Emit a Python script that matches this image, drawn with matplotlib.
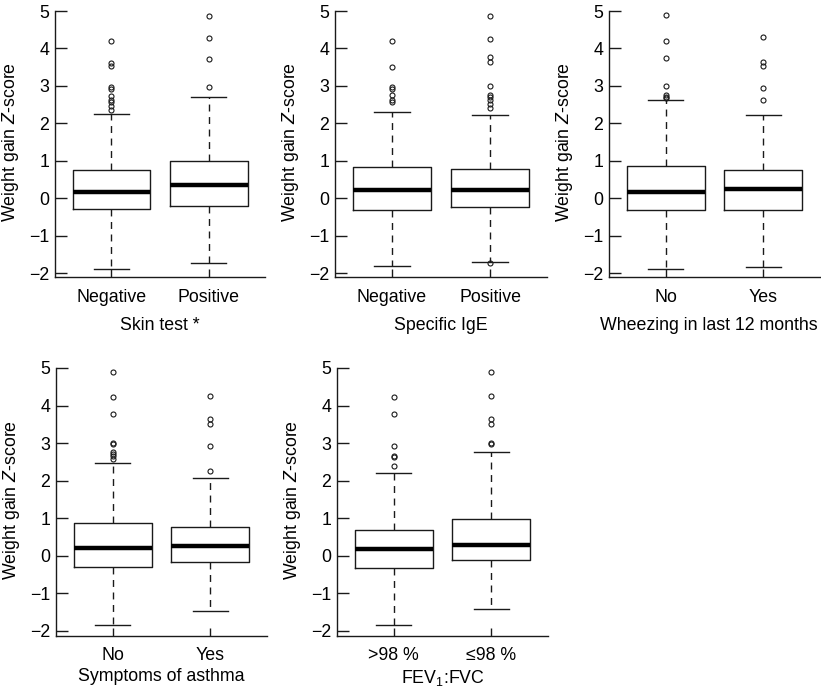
import matplotlib
matplotlib.use("Agg")
import matplotlib.pyplot as plt

plt.rcParams['font.family'] = ['Liberation Sans', 'DejaVu Sans']
plt.rcParams['mathtext.fontset'] = 'custom'
plt.rcParams['mathtext.rm'] = 'Liberation Sans'
plt.rcParams['mathtext.it'] = 'Liberation Sans:italic'

# ---- data ----
skin_labels = ["Negative", "Positive"]
skin_whislo = [-1.89, -1.73]
skin_q1 = [-0.30, -0.21]
skin_med = [0.16, 0.34]
skin_q3 = [0.74, 0.99]
skin_whishi = [2.26, 2.71]
skin_fliers = [[4.19, 3.61, 3.52, 2.96, 2.93, 2.72, 2.61, 2.57, 2.46, 2.35],
               [4.87, 4.28, 3.73, 2.97]]

ige_labels = ["Negative", "Positive"]
ige_whislo = [-1.81, -1.70]
ige_q1 = [-0.32, -0.24]
ige_med = [0.22, 0.22]
ige_q3 = [0.84, 0.79]
ige_whishi = [2.30, 2.21]
ige_fliers = [[4.21, 3.51, 2.96, 2.91, 2.76, 2.63, 2.58],
              [4.88, 4.26, 3.76, 3.65, 3.01, 2.76, 2.69, 2.61, 2.52, 2.41, -1.74]]

wheeze_labels = ["No", "Yes"]
wheeze_whislo = [-1.90, -1.83]
wheeze_q1 = [-0.31, -0.31]
wheeze_med = [0.16, 0.24]
wheeze_q3 = [0.87, 0.74]
wheeze_whishi = [2.62, 2.23]
wheeze_fliers = [[4.89, 4.21, 3.75, 2.99, 2.76, 2.71, 2.67],
                 [4.30, 3.64, 3.54, 2.94, 2.62]]

asthma_labels = ["No", "Yes"]
asthma_whislo = [-1.84, -1.47]
asthma_q1 = [-0.29, -0.16]
asthma_med = [0.21, 0.26]
asthma_q3 = [0.88, 0.78]
asthma_whishi = [2.47, 2.06]
asthma_fliers = [[4.89, 4.22, 3.77, 3.01, 2.97, 2.77, 2.72, 2.65, 2.59],
                 [4.26, 3.64, 3.52, 2.93, 2.26]]

fev_labels = [">98 %", "\u226498 %"]
fev_whislo = [-1.84, -1.42]
fev_q1 = [-0.33, -0.11]
fev_med = [0.17, 0.30]
fev_q3 = [0.70, 0.99]
fev_whishi = [2.21, 2.76]
fev_fliers = [[4.22, 3.77, 2.92, 2.67, 2.63, 2.39],
              [4.89, 4.26, 3.64, 3.52, 3.01, 2.97]]

yticks = [-2, -1, 0, 1, 2, 3, 4, 5]
ytick_labels = ["\u22122", "\u22121", "0", "1", "2", "3", "4", "5"]
ylabel = "Weight gain $\\it{Z}$-score"

panels = [
    ("Skin test *", skin_labels, skin_whislo, skin_q1, skin_med, skin_q3, skin_whishi, skin_fliers),
    ("Specific IgE", ige_labels, ige_whislo, ige_q1, ige_med, ige_q3, ige_whishi, ige_fliers),
    ("Wheezing in last 12 months", wheeze_labels, wheeze_whislo, wheeze_q1, wheeze_med, wheeze_q3, wheeze_whishi, wheeze_fliers),
    ("Symptoms of asthma", asthma_labels, asthma_whislo, asthma_q1, asthma_med, asthma_q3, asthma_whishi, asthma_fliers),
    ("FEV$_1$:FVC", fev_labels, fev_whislo, fev_q1, fev_med, fev_q3, fev_whishi, fev_fliers),
]

W, H = 821, 693
fig = plt.figure(figsize=(W / 100, H / 100), dpi=100)

# axes rectangles in pixels: (left, top, right, bottom)
rects = [(55, 7.3, 265, 277.5), (335, 7.3, 547, 277.5), (609, 7.3, 820, 277.5),
         (56, 364.2, 267, 635.5), (337, 364.2, 548, 635.5)]
xlabpads = [8.5, 8.5, 8.5, 3.0, 3.0]
xlabel_x = [0.5, 0.5, 0.475, 0.5, 0.5]

FS = 12.8
col = "#1a1a1a"
for (title, labels, wlo, q1, med, q3, whi, fl), (l, t, r, b), xlp, lx in zip(panels, rects, xlabpads, xlabel_x):
    ax = fig.add_axes([l / W, 1 - b / H, (r - l) / W, (b - t) / H])
    stats = []
    for i in range(len(labels)):
        stats.append(dict(whislo=wlo[i], q1=q1[i], med=med[i], q3=q3[i], whishi=whi[i],
                          fliers=fl[i], label=labels[i]))
    ax.bxp(stats, positions=[1, 2], widths=0.8, capwidths=0.36, showfliers=True,
           boxprops=dict(color=col, linewidth=1.0),
           medianprops=dict(color="black", linewidth=3.2, solid_capstyle='butt'),
           whiskerprops=dict(color=col, linewidth=1.0, linestyle=(0, (5, 4))),
           capprops=dict(color=col, linewidth=1.0),
           flierprops=dict(marker='o', markersize=3.6, markerfacecolor='none',
                           markeredgecolor=col, markeredgewidth=0.8))
    ax.set_xlim(0.42, 2.58)
    ax.set_ylim(-2.12, 5.1)
    ax.set_yticks(yticks)
    ax.set_yticklabels(ytick_labels)
    ax.spines['top'].set_visible(False)
    ax.spines['right'].set_visible(False)
    ax.spines['left'].set_bounds(-2.12, 5)
    for s in ('left', 'bottom'):
        ax.spines[s].set_linewidth(1.0)
        ax.spines[s].set_color(col)
    ax.tick_params(axis='both', direction='in', width=1.0, color=col, labelsize=FS)
    ax.tick_params(axis='y', length=8.5, pad=4)
    ax.tick_params(axis='x', length=5.5, pad=8)
    ax.set_ylabel(ylabel, fontsize=FS, labelpad=6)
    ax.set_xlabel(title, fontsize=FS, labelpad=xlp)
    ax.xaxis.label.set_x(lx)

fig.savefig("out.png", dpi=100)
